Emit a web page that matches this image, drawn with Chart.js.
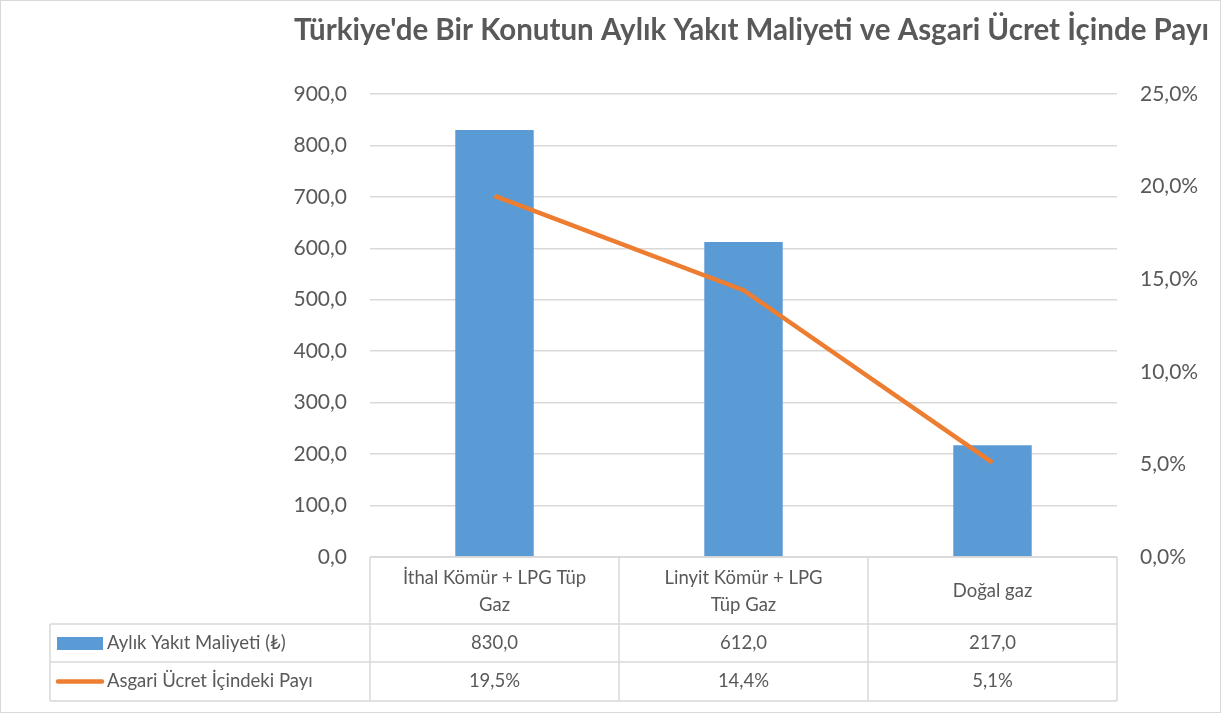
<!DOCTYPE html>
<html>
<head>
<meta charset="utf-8">
<script src="https://cdn.jsdelivr.net/npm/chart.js@4.4.0/dist/chart.umd.min.js"></script>
<style>
  html, body { margin: 0; padding: 0; background: #fff; }
  #wrap { width: 1221px; height: 713px; }
</style>
</head>
<body>
<div id="wrap"><canvas id="myChart"></canvas></div>
<script>
// data
var categories = [
  ["İthal Kömür + LPG Tüp", "Gaz"],
  ["Linyit Kömür + LPG", "Tüp Gaz"],
  ["Doğal gaz"]
];
var seriesNames = ["Aylık Yakıt Maliyeti (₺)", "Asgari Ücret İçindeki Payı"];
var costs = [830.0, 612.0, 217.0];
var shares = [19.5, 14.4, 5.1];
var costTicks = [0, 100, 200, 300, 400, 500, 600, 700, 800, 900];
var shareTicks = [0, 5, 10, 15, 20, 25];

var blue = "#5B9BD5", orange = "#ED7D31", txt = "#595959", gridC = "#d9d9d9";
var fam = "Lato, 'Noto Sans', sans-serif";

function fmt(v) { return v.toFixed(1).replace(".", ","); }

var tablePlugin = {
  id: "dataTable",
  afterDraw: function (chart) {
    var ctx = chart.ctx, a = chart.chartArea, x = chart.scales.x;
    var colW = (a.right - a.left) / categories.length;
    var r0 = a.bottom, r1 = a.bottom + 67, r2 = r1 + 38, r3 = r2 + 39;
    var left = 50;
    ctx.save();
    ctx.strokeStyle = gridC;
    ctx.lineWidth = 1.5;
    ctx.beginPath();
    // horizontal lines
    ctx.moveTo(a.left, r0); ctx.lineTo(a.right, r0);
    [r1, r2, r3].forEach(function (y) { ctx.moveTo(left, y); ctx.lineTo(a.right, y); });
    // vertical lines
    for (var i = 0; i <= categories.length; i++) {
      var cx = a.left + i * colW;
      ctx.moveTo(cx, r0); ctx.lineTo(cx, r3);
    }
    ctx.moveTo(left, r1); ctx.lineTo(left, r3);
    ctx.stroke();

    ctx.fillStyle = txt;
    ctx.font = "18.5px " + fam;
    ctx.textAlign = "center";
    ctx.textBaseline = "middle";
    categories.forEach(function (lines, i) {
      var cx = x.getPixelForValue(i);
      var lh = 27;
      var y0 = (r0 + r1) / 2 + 1 - (lines.length - 1) * lh / 2;
      lines.forEach(function (l, j) { ctx.fillText(l, cx, y0 + j * lh); });
      ctx.fillText(fmt(costs[i]), cx, (r1 + r2) / 2);
      ctx.fillText(fmt(shares[i]) + "%", cx, (r2 + r3) / 2);
    });

    // row headers with legend keys
    ctx.textAlign = "left";
    ctx.fillStyle = blue;
    ctx.fillRect(57, (r1 + r2) / 2 - 6, 46, 13);
    ctx.strokeStyle = orange;
    ctx.lineWidth = 4.5;
    ctx.lineCap = "round";
    ctx.beginPath();
    ctx.moveTo(58, (r2 + r3) / 2); ctx.lineTo(102, (r2 + r3) / 2);
    ctx.stroke();
    ctx.fillStyle = txt;
    ctx.fillText(seriesNames[0], 107, (r1 + r2) / 2);
    ctx.fillText(seriesNames[1], 107, (r2 + r3) / 2);

    // outer border
    ctx.strokeStyle = gridC;
    ctx.lineWidth = 1;
    ctx.strokeRect(0.5, 0.5, chart.width - 1, chart.height - 1);
    ctx.restore();
  }
};

new Chart(document.getElementById("myChart"), {
  type: "bar",
  data: {
    labels: categories,
    datasets: [
      {
        type: "line",
        label: seriesNames[1],
        data: shares,
        yAxisID: "y1",
        borderColor: orange,
        backgroundColor: orange,
        borderWidth: 4.5,
        pointRadius: 0,
        tension: 0,
        order: 0
      },
      {
        type: "bar",
        label: seriesNames[0],
        data: costs,
        yAxisID: "y",
        backgroundColor: blue,
        categoryPercentage: 1,
        barPercentage: 0.315,
        order: 1
      }
    ]
  },
  options: {
    responsive: true,
    maintainAspectRatio: false,
    animation: false,
    layout: { padding: { left: 0, right: 12, top: 0, bottom: 156 } },
    plugins: {
      legend: { display: false },
      tooltip: { enabled: false },
      title: {
        display: true,
        text: "Türkiye'de Bir Konutun Aylık Yakıt Maliyeti ve Asgari Ücret İçinde Payı",
        align: "end",
        color: txt,
        font: { family: fam, size: 29.5, weight: "bold" },
        padding: { top: 13, bottom: 45.5 }
      }
    },
    scales: {
      x: { display: false },
      y: {
        position: "left",
        min: 0, max: 900,
        afterBuildTicks: function (s) { s.ticks = costTicks.map(function (v) { return { value: v }; }); },
        afterFit: function (s) { s.width = 370; },
        border: { display: false },
        grid: { color: gridC, lineWidth: 1.5, drawTicks: false },
        ticks: {
          color: txt, padding: 23,
          font: { family: fam, size: 21 },
          callback: function (v) { return fmt(v); }
        }
      },
      y1: {
        position: "right",
        min: 0, max: 25,
        afterBuildTicks: function (s) { s.ticks = shareTicks.map(function (v) { return { value: v }; }); },
        afterFit: function (s) { s.width = 92; },
        border: { display: false },
        grid: { display: false, drawTicks: false },
        ticks: {
          color: txt, padding: 23,
          font: { family: fam, size: 21 },
          callback: function (v) { return fmt(v) + "%"; }
        }
      }
    }
  },
  plugins: [tablePlugin]
});
</script>
</body>
</html>
